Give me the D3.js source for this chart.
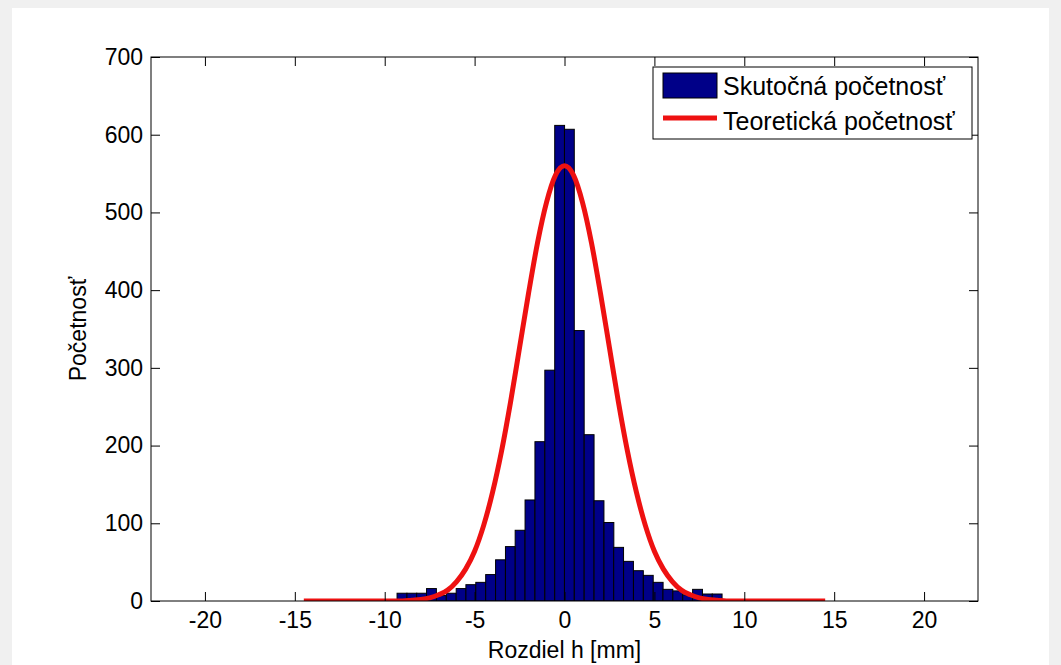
<!DOCTYPE html>
<html>
<head>
<meta charset="utf-8">
<script src="https://cdn.jsdelivr.net/npm/d3@7/dist/d3.min.js"></script>
<style>
  html, body { margin: 0; padding: 0; background: #f0f0f0; }
  svg { display: block; }
  text { font-family: "Liberation Sans", Arial, sans-serif; fill: #000; }
</style>
</head>
<body>
<svg id="chart" width="1061" height="665"></svg>
<script>
// ---------- data ----------
const binCenters = [-9.04, -8.49, -7.95, -7.40, -6.85, -6.30, -5.75, -5.21, -4.66, -4.11, -3.56,
  -3.01, -2.47, -1.92, -1.37, -0.82, -0.27, 0.27, 0.82, 1.37, 1.92, 2.47, 3.01, 3.56, 4.11,
  4.66, 5.21, 5.75, 6.30, 6.85, 7.40, 7.95, 8.49];
const binWidth = 0.548;
const counts = [10, 10, 10, 16, 7, 10, 16, 21, 24, 34, 53, 70, 91, 130, 205, 297, 612, 607,
  348, 214, 129, 101, 69, 51, 39, 33, 24, 15, 13, 8, 15, 9, 9];

const curveX = [-14.5, -9, -8.5, -8, -7.5, -7, -6.5, -6, -5.5, -5, -4.5, -4, -3.5, -3, -2.5, -2,
  -1.5, -1, -0.5, 0, 0.5, 1, 1.5, 2, 2.5, 3, 3.5, 4, 4.5, 5, 5.5, 6, 6.5, 7, 7.5, 8, 8.5, 9, 14.5];
const curveY = [0, 0, 1, 2, 4, 8, 14, 25, 41, 64, 97, 140, 193, 256, 326, 396, 461, 513, 548, 560,
  548, 513, 461, 396, 326, 256, 193, 140, 97, 64, 41, 25, 14, 8, 4, 2, 1, 0, 0];

const xTicks = [-20, -15, -10, -5, 0, 5, 10, 15, 20];
const yTicks = [0, 100, 200, 300, 400, 500, 600, 700];
const xDomain = [-23, 23];
const yDomain = [0, 700];

const legendLabels = ["Skutočná početnosť", "Teoretická početnosť"];
const xLabel = "Rozdiel h [mm]";
const yLabel = "Početnosť";

// ---------- layout ----------
const svg = d3.select("#chart");
const L = 151, R = 978, T = 57, B = 601;
const fs = 23;
const barColor = "#000088";
const lineColor = "#ee1111";

svg.append("rect").attr("x", 12).attr("y", 8).attr("width", 1037).attr("height", 657).attr("fill", "#fff");

const x = d3.scaleLinear().domain(xDomain).range([L, R]);
const y = d3.scaleLinear().domain(yDomain).range([B, T]);

svg.append("defs").append("clipPath").attr("id", "plotclip")
  .append("rect").attr("x", L).attr("y", T).attr("width", R - L).attr("height", B - T);

const plot = svg.append("g").attr("clip-path", "url(#plotclip)");

// bars
plot.selectAll("rect.bar")
  .data(binCenters.map((c, i) => ({ c, v: counts[i] })))
  .join("rect")
  .attr("class", "bar")
  .attr("x", d => x(d.c - binWidth / 2))
  .attr("width", d => x(d.c + binWidth / 2) - x(d.c - binWidth / 2))
  .attr("y", d => y(d.v))
  .attr("height", d => y(0) - y(d.v))
  .attr("fill", barColor)
  .attr("stroke", "#000")
  .attr("stroke-width", 1);

// curve
const line = d3.line().x(d => x(d[0])).y(d => y(d[1])).curve(d3.curveMonotoneX);
plot.append("path")
  .datum(curveX.map((v, i) => [v, curveY[i]]))
  .attr("d", line)
  .attr("fill", "none")
  .attr("stroke", lineColor)
  .attr("stroke-width", 5)
  .attr("stroke-linejoin", "round");

// axes
const tickLen = 9;
const gx = svg.append("g").attr("transform", `translate(0,${B})`)
  .call(d3.axisBottom(x).tickValues(xTicks).tickSizeInner(-tickLen).tickSizeOuter(0).tickPadding(11));
const gxt = svg.append("g").attr("transform", `translate(0,${T})`)
  .call(d3.axisTop(x).tickValues(xTicks).tickSizeInner(-tickLen).tickSizeOuter(0).tickFormat(""));
const gy = svg.append("g").attr("transform", `translate(${L},0)`)
  .call(d3.axisLeft(y).tickValues(yTicks).tickSizeInner(-tickLen).tickSizeOuter(0).tickPadding(8));
const gyr = svg.append("g").attr("transform", `translate(${R},0)`)
  .call(d3.axisRight(y).tickValues(yTicks).tickSizeInner(-tickLen).tickSizeOuter(0).tickFormat(""));

[gx, gxt, gy, gyr].forEach(g => {
  g.select(".domain").remove();
  g.selectAll("line").attr("stroke", "#000");
  g.selectAll("text").attr("font-size", fs).attr("font-family", "Liberation Sans, Arial, sans-serif").attr("fill", "#000");
});
gx.selectAll("text").text(d => d < 0 ? "-" + Math.abs(d) : String(d));

svg.append("rect").attr("x", L).attr("y", T).attr("width", R - L).attr("height", B - T)
  .attr("fill", "none").attr("stroke", "#000").attr("stroke-width", 1);

// axis labels
svg.append("text").attr("x", (L + R) / 2).attr("y", 658).attr("text-anchor", "middle")
  .attr("font-size", fs).text(xLabel);
svg.append("text").attr("transform", `translate(86,${(T + B) / 2}) rotate(-90)`)
  .attr("text-anchor", "middle").attr("font-size", fs).text(yLabel);

// legend
const lg = svg.append("g");
lg.append("rect").attr("x", 653).attr("y", 67).attr("width", 319).attr("height", 72)
  .attr("fill", "#fff").attr("stroke", "#000").attr("stroke-width", 1);
lg.append("rect").attr("x", 663).attr("y", 73).attr("width", 54).attr("height", 25)
  .attr("fill", barColor).attr("stroke", "#000").attr("stroke-width", 1);
lg.append("line").attr("x1", 663).attr("x2", 717).attr("y1", 118).attr("y2", 118)
  .attr("stroke", lineColor).attr("stroke-width", 5);
lg.append("text").attr("x", 723).attr("y", 95).attr("font-size", 25).text(legendLabels[0]);
lg.append("text").attr("x", 723).attr("y", 130).attr("font-size", 25).text(legendLabels[1]);
</script>
</body>
</html>
